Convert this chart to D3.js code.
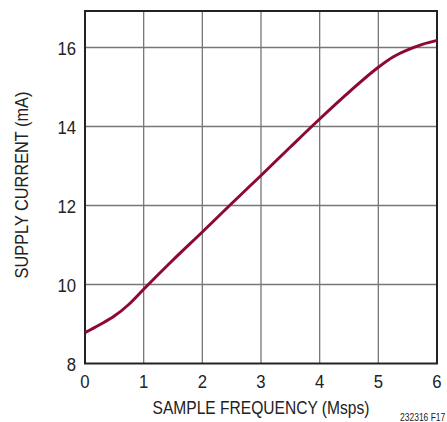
<!DOCTYPE html>
<html>
<head>
<meta charset="utf-8">
<script src="https://cdn.jsdelivr.net/npm/d3@7"></script>
<style>
  body { margin: 0; background: #fff; }
  text { font-family: "Liberation Sans", Arial, sans-serif; fill: #222; }
</style>
</head>
<body>
<div id="chart"></div>
<script>
// data
let freq = [0, 0.25, 0.5, 0.75, 1, 1.5, 2, 2.5, 3, 3.5, 4, 4.5, 5, 5.25, 5.5, 5.75, 6];
let current = [8.78, 8.98, 9.2, 9.5, 9.88, 10.62, 11.33, 12.05, 12.76, 13.48, 14.19, 14.87, 15.5, 15.76, 15.94, 16.08, 16.18];
let xTicks = [0, 1, 2, 3, 4, 5, 6];
let yTicks = [8, 10, 12, 14, 16];

let W = 447, H = 422;
let plotL = 85, plotR = 437, plotT = 11, plotB = 363.5;

let svg = d3.select("#chart").append("svg")
  .attr("width", W).attr("height", H);

let x = d3.scaleLinear().domain([0, 6]).range([plotL, plotR]);
let y = d3.scaleLinear().domain([8, 16]).range([plotB, 47.5]);

// narrow text: squeeze horizontally
function label(px, py, str, size, sx, anchor, rot) {
  return svg.append("text")
    .attr("transform", "translate(" + px + "," + py + ")" + (rot ? " rotate(" + rot + ")" : "") + " scale(" + sx + ",1)")
    .attr("text-anchor", anchor)
    .attr("font-size", size)
    .text(str);
}

// grid
svg.append("g").selectAll("line").data(xTicks.slice(1, -1)).enter().append("line")
  .attr("x1", d => x(d)).attr("x2", d => x(d))
  .attr("y1", plotT).attr("y2", plotB)
  .attr("stroke", "#777").attr("stroke-width", 1.3);
svg.append("g").selectAll("line").data(yTicks.slice(1)).enter().append("line")
  .attr("x1", plotL).attr("x2", plotR)
  .attr("y1", d => y(d)).attr("y2", d => y(d))
  .attr("stroke", "#777").attr("stroke-width", 1.3);

// frame
svg.append("rect")
  .attr("x", plotL).attr("y", plotT)
  .attr("width", plotR - plotL).attr("height", plotB - plotT)
  .attr("fill", "none").attr("stroke", "#222").attr("stroke-width", 2);

// curve
let line = d3.line()
  .x((d, i) => x(freq[i]))
  .y(d => y(d))
  .curve(d3.curveMonotoneX);
svg.append("path")
  .datum(current)
  .attr("d", line)
  .attr("fill", "none")
  .attr("stroke", "#8c0a32")
  .attr("stroke-width", 3);

// tick labels
xTicks.forEach(d => label(x(d), 388, d, 19, 0.88, "middle"));
yTicks.forEach(d => label(76, y(d) + 7, d, 19, 0.88, "end"));

// axis titles
label(261, 413.5, "SAMPLE FREQUENCY (Msps)", 19, 0.82, "middle");
label(28, 185, "SUPPLY CURRENT (mA)", 19, 0.86, "middle", -90);

label(400, 421, "232316 F17", 10, 0.85, "start");
</script>
</body>
</html>
